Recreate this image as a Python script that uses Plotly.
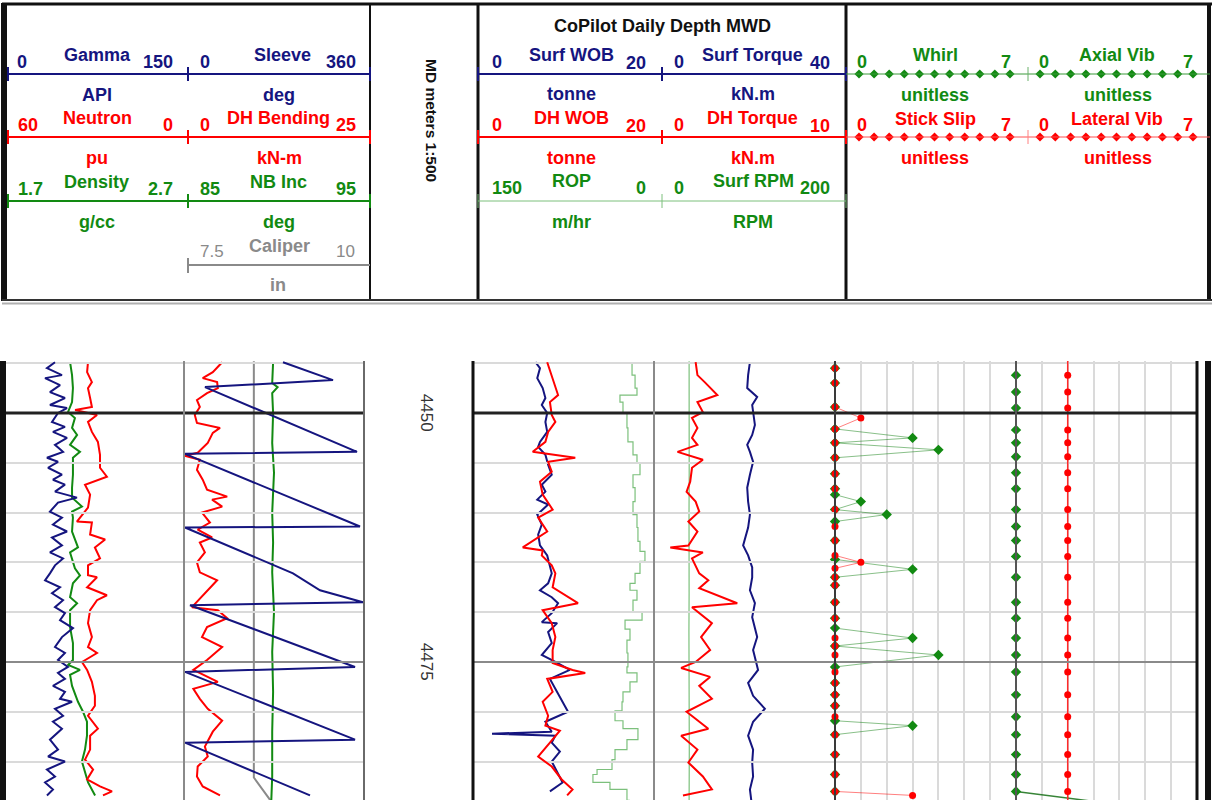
import numpy as np
import plotly.graph_objects as go

W, H = 1212, 800
FONT = "Liberation Sans, Arial, sans-serif"
NAVY = "#15157f"
RED = "#ff0000"
GREEN = "#128a12"
LGREEN = "#7cc07c"
GRAY = "#8a8a8a"
GRID = "#dadada"

# ---------------------------------------------------------------- data
DEPTH_TOP, DEPTH_BOT = 4444.78, 4488.86
MAJOR_DEPTH = 4450
MID_DEPTH = 4475
DEPTH_LABELS = [4450, 4475]

gamma_depth = [4444.9, 4445.5, 4446.2, 4446.5, 4447.2, 4447.9, 4448.5, 4449.2, 4449.5, 4450.0, 4450.9, 4451.4,
               4451.9, 4452.5, 4453.2, 4453.9, 4454.5, 4454.9, 4455.5, 4456.2, 4456.7, 4457.2, 4457.9, 4458.5,
               4459.0, 4459.9, 4460.5, 4461.2, 4461.9, 4462.5, 4463.3, 4464.0, 4464.6, 4465.3, 4466.1, 4466.8,
               4467.5, 4468.1, 4468.8, 4469.5, 4470.1, 4470.8, 4471.6, 4472.5, 4473.5, 4474.1, 4474.8, 4475.5,
               4476.1, 4476.7, 4477.4, 4478.0, 4478.7, 4479.0, 4479.7, 4480.4, 4481.0, 4481.7, 4482.8, 4483.8,
               4484.5, 4485.0, 4485.8, 4486.5, 4487.1, 4487.8, 4488.4]
gamma_api = [42.5, 35.8, 48.3, 34.2, 46.7, 38.3, 50.8, 38.3, 52.5, 45.0, 40.0, 50.8,
             40.8, 52.5, 42.5, 49.2, 35.8, 45.0, 36.7, 48.3, 40.8, 50.8, 42.5, 60.8,
             45.0, 38.3, 48.3, 40.8, 52.5, 40.0, 48.3, 38.3, 49.2, 42.5, 38.3, 34.2,
             46.7, 40.0, 49.2, 42.5, 50.8, 46.7, 57.5, 48.3, 42.5, 50.8, 45.0, 53.3,
             45.0, 50.8, 40.8, 50.8, 46.7, 56.7, 42.5, 49.2, 40.8, 48.3, 38.3, 45.0,
             36.7, 50.8, 35.8, 42.5, 34.2, 40.8, 35.8]

density_depth = [4444.9, 4446.2, 4447.5, 4448.9, 4449.9, 4450.5, 4451.5, 4452.2, 4453.2, 4453.9, 4454.5, 4456.2,
                 4457.5, 4458.5, 4459.4, 4459.9, 4460.5, 4461.9, 4463.5, 4464.0, 4465.6, 4466.3, 4467.1, 4468.5,
                 4469.1, 4469.8, 4471.5, 4473.1, 4474.8, 4475.3, 4475.8, 4476.3, 4477.4, 4479.0, 4480.0, 4481.0,
                 4482.4, 4483.8, 4485.0, 4486.1, 4487.1, 4488.4]
density_gcc = [2.067, 2.078, 2.083, 2.078, 2.056, 2.094, 2.078, 2.106, 2.067, 2.122, 2.083, 2.083,
               2.078, 2.078, 2.133, 2.078, 2.083, 2.078, 2.111, 2.067, 2.094, 2.122, 2.083, 2.067,
               2.106, 2.067, 2.067, 2.083, 2.083, 2.056, 2.122, 2.067, 2.078, 2.111, 2.139, 2.161,
               2.161, 2.150, 2.133, 2.150, 2.167, 2.206]

neutron_depth = [4444.9, 4445.9, 4446.9, 4447.5, 4448.5, 4449.4, 4449.7, 4450.2, 4450.9, 4451.9, 4452.9, 4454.2,
                 4455.5, 4456.4, 4457.2, 4458.2, 4459.5, 4460.9, 4461.0, 4462.2, 4462.7, 4463.5, 4464.6, 4465.3,
                 4466.3, 4466.5, 4467.5, 4468.3, 4468.8, 4469.8, 4471.1, 4472.5, 4473.5, 4474.1, 4475.0, 4475.8,
                 4477.0, 4478.4, 4479.4, 4480.4, 4481.7, 4482.4, 4483.8, 4484.8, 4485.8, 4486.8, 4487.5, 4488.0,
                 4488.4]
neutron_pu = [32.0, 32.3, 30.7, 32.0, 31.3, 30.7, 36.3, 29.0, 32.0, 30.7, 28.7, 28.0,
              28.0, 25.7, 33.0, 31.3, 32.0, 35.7, 30.7, 31.3, 26.3, 29.7, 28.0, 32.0,
              32.0, 29.0, 32.3, 25.7, 29.0, 31.3, 32.0, 30.7, 32.0, 29.0, 34.0, 32.3,
              30.7, 29.7, 29.7, 32.0, 28.7, 31.3, 31.3, 33.0, 30.3, 32.3, 28.0, 24.0,
              27.0]

sleeve_depth = [4444.9, 4446.7, 4447.4, 4453.9, 4454.1, 4461.4, 4461.5, 4466.1, 4467.8, 4469.0, 4469.3, 4475.5,
                4476.0, 4482.8, 4483.1, 4488.4]
sleeve_deg = [198, 298, 42, 346, 2, 352, 2, 218, 272, 358, 12, 342, 2, 342, 2, 252]

bend_depth = [4444.9, 4445.9, 4446.5, 4446.9, 4447.5, 4448.0, 4448.7, 4449.4, 4450.2, 4451.0, 4451.5, 4452.0,
              4453.0, 4454.0, 4454.3, 4454.7, 4455.7, 4456.7, 4457.7, 4458.4, 4458.7, 4459.4, 4460.0, 4461.0,
              4461.7, 4462.5, 4463.0, 4464.0, 4465.0, 4466.0, 4466.8, 4467.8, 4468.8, 4469.5, 4469.8, 4470.6,
              4471.5, 4472.5, 4473.5, 4474.8, 4475.8, 4477.0, 4477.7, 4478.7, 4479.7, 4480.9, 4482.0, 4483.5,
              4484.5, 4485.5, 4486.5, 4487.5, 4488.4]
bend_knm = [5.3, 4.0, 2.6, 4.6, 4.7, 3.2, 1.8, 2.2, 1.5, 1.8, 5.0, 4.0,
            3.3, 1.9, 0.1, 2.2, 1.8, 2.6, 3.2, 6.0, 3.9, 5.3, 2.5, 3.6,
            1.9, 3.9, 2.2, 2.9, 1.8, 2.2, 4.6, 3.3, 1.9, 1.1, 4.7, 6.0,
            3.2, 2.5, 5.3, 3.2, 1.3, 4.7, 1.3, 2.2, 3.3, 5.3, 4.0, 2.9,
            3.3, 1.9, 1.8, 2.6, 5.0]

nbinc_depth = [4444.9, 4447.0, 4447.4, 4448.0, 4450.0, 4453.0, 4456.0, 4460.0, 4463.0, 4466.0, 4470.0, 4474.0,
               4478.0, 4482.0, 4486.5, 4488.9]
nbinc_deg = [89.95, 89.9, 90.2, 89.9, 89.95, 89.9, 90.0, 89.9, 89.95, 89.9, 90.0, 89.9,
             89.95, 89.9, 89.9, 89.85]

caliper_depth = [4444.8, 4486.6, 4488.4, 4488.9]
caliper_in = [8.47, 8.47, 8.65, 8.70]

swob_depth = [4444.9, 4445.5, 4446.5, 4447.5, 4448.5, 4449.2, 4450.0, 4450.9, 4451.9, 4452.9, 4453.4, 4454.2,
              4455.2, 4456.2, 4457.2, 4457.9, 4458.7, 4459.2, 4460.2, 4461.2, 4462.2, 4463.3, 4464.3, 4465.3,
              4466.1, 4467.1, 4467.8, 4468.5, 4469.1, 4470.1, 4471.0, 4471.1, 4472.0, 4473.1, 4474.3, 4475.0,
              4475.8, 4476.7, 4478.0, 4479.0, 4480.0, 4481.0, 4482.0, 4482.2, 4482.4, 4483.1, 4484.0, 4485.0,
              4486.1, 4487.1, 4488.0]
swob_t = [6.9, 7.4, 7.1, 7.7, 8.0, 7.6, 8.2, 8.0, 8.2, 7.4, 7.2, 8.0,
          8.3, 8.7, 7.6, 8.0, 7.1, 8.3, 7.1, 7.6, 7.2, 7.4, 8.2, 8.5,
          8.7, 8.3, 7.4, 8.7, 9.4, 8.7, 7.6, 9.3, 8.3, 8.7, 7.6, 9.1,
          10.7, 8.5, 9.3, 9.9, 10.5, 8.0, 8.7, 2.1, 9.1, 8.7, 9.6, 8.7,
          9.3, 9.9, 8.5]

dwob_depth = [4444.9, 4446.2, 4448.2, 4448.9, 4450.2, 4450.9, 4451.9, 4452.9, 4453.9, 4454.5, 4454.9, 4455.9,
              4456.9, 4458.2, 4459.7, 4460.5, 4461.9, 4463.5, 4463.8, 4464.3, 4465.3, 4466.1, 4467.5, 4469.1,
              4469.8, 4471.1, 4472.5, 4473.8, 4475.1, 4475.8, 4476.1, 4476.7, 4478.0, 4479.0, 4480.4, 4481.4,
              4481.9, 4483.1, 4484.5, 4485.5, 4486.8, 4487.8, 4488.4]
dwob_t = [8.2, 8.7, 9.4, 8.5, 8.7, 9.1, 8.3, 8.0, 6.6, 11.3, 8.3, 8.7,
          7.4, 7.7, 8.8, 7.2, 8.2, 5.5, 7.7, 7.6, 8.7, 9.1, 8.8, 11.6,
          7.7, 8.7, 9.1, 8.8, 8.8, 11.0, 12.4, 8.2, 8.8, 7.7, 8.3, 8.0,
          9.6, 8.5, 7.2, 8.7, 9.8, 11.0, 10.4]

rop_depth = [4444.9, 4446.2, 4447.5, 4448.2, 4448.9, 4450.0, 4451.5, 4452.9, 4454.2, 4455.0, 4456.2, 4457.5,
             4458.9, 4460.2, 4461.5, 4462.9, 4463.9, 4464.9, 4466.1, 4467.1, 4467.8, 4468.8, 4470.0, 4470.8,
             4471.7, 4472.8, 4474.1, 4475.5, 4476.1, 4477.0, 4478.0, 4479.0, 4479.9, 4480.9, 4481.7, 4482.8,
             4483.8, 4484.8, 4485.8, 4486.3, 4487.1, 4487.8, 4488.9]
rop_mhr = [18.2, 15.7, 14.1, 28.2, 25.7, 22.4, 21.6, 17.4, 14.1, 11.6, 17.4, 15.7,
           17.4, 14.1, 13.3, 11.6, 7.5, 11.6, 15.7, 19.9, 14.1, 17.4, 9.9, 24.0,
           19.9, 22.4, 21.6, 22.4, 14.1, 19.9, 25.7, 26.5, 32.3, 25.7, 13.3, 22.4,
           32.3, 34.8, 47.2, 50.6, 36.5, 22.4, 20.0]

dtq_depth = [4444.9, 4446.2, 4446.9, 4448.2, 4448.9, 4449.9, 4450.5, 4451.5, 4452.5, 4453.2, 4453.9, 4454.7,
             4455.5, 4456.9, 4457.9, 4458.9, 4459.9, 4460.9, 4461.9, 4463.3, 4463.5, 4464.0, 4464.6, 4466.1,
             4466.8, 4467.6, 4469.1, 4469.5, 4471.1, 4472.5, 4473.8, 4475.0, 4475.6, 4476.5, 4477.4, 4478.7,
             4480.0, 4481.7, 4482.4, 4483.8, 4485.1, 4486.5, 4487.8, 4488.4]
dtq_knm = [2.3, 2.4, 2.8, 3.5, 2.4, 2.7, 2.1, 2.4, 2.1, 2.4, 1.3, 2.7,
           2.1, 2.0, 1.8, 2.3, 2.5, 1.9, 2.4, 1.9, 0.9, 2.7, 2.1, 2.5,
           3.0, 2.5, 4.6, 2.1, 3.2, 2.6, 3.1, 2.3, 1.5, 3.1, 2.5, 3.2,
           1.8, 3.0, 1.5, 2.4, 1.9, 2.7, 3.2, 1.6]

stq_depth = [4444.9, 4446.2, 4447.5, 4448.4, 4449.2, 4450.0, 4451.2, 4452.2, 4453.2, 4453.9, 4454.9, 4456.2,
             4457.5, 4458.9, 4460.2, 4461.5, 4463.3, 4464.3, 4465.5, 4466.5, 4467.8, 4469.1, 4470.5, 4472.5,
             4473.8, 4475.8, 4477.1, 4478.4, 4479.7, 4481.0, 4482.4, 4483.8, 4485.1, 4486.5, 4487.8, 4488.9]
stq_knm = [21.2, 20.8, 20.6, 22.8, 21.7, 21.9, 22.3, 21.7, 20.6, 21.2, 21.9, 21.2,
           20.6, 20.8, 21.2, 20.8, 19.7, 20.8, 21.7, 21.7, 21.2, 22.3, 21.7, 22.8,
           21.9, 23.0, 20.8, 21.9, 24.5, 21.9, 20.8, 21.9, 21.7, 21.9, 21.2, 21.5]

rpm_depth = [4444.8, 4448.0, 4452.0, 4456.0, 4460.0, 4464.0, 4468.0, 4472.0, 4476.0, 4480.0, 4484.0, 4488.9]
rpm_val = [38.8, 39.0, 38.6, 38.9, 38.7, 39.0, 38.8, 38.6, 38.9, 38.7, 39.0, 38.8]

whirl_depth = [4444.4, 4445.5, 4447.0, 4449.4, 4451.6, 4452.5, 4453.0, 4453.7, 4454.5, 4456.1, 4457.6, 4458.2,
               4458.9, 4459.7, 4460.2, 4460.9, 4462.8, 4464.7, 4465.7, 4466.5, 4467.3, 4469.0, 4470.6, 4471.6,
               4472.6, 4473.4, 4474.3, 4475.5, 4477.1, 4478.3, 4479.4, 4480.9, 4481.4, 4482.3, 4484.3, 4486.3,
               4488.0]
whirl_val = [0, 0, 0, 0, 0, 3, 0, 4, 0, 0, 0, 0,
             1, 0, 2, 0, 0, 0, 3, 0, 0, 0, 0, 0,
             3, 0, 4, 0, 0, 0, 0, 0, 3, 0, 0, 0, 0]

stick_depth = [4444.4, 4445.5, 4447.0, 4449.4, 4450.5, 4451.6, 4453.0, 4454.5, 4456.1, 4457.6, 4459.7, 4461.4,
               4462.8, 4464.3, 4465.0, 4465.6, 4466.5, 4467.3, 4469.0, 4470.6, 4472.6, 4473.4, 4474.3, 4476.0,
               4477.1, 4478.3, 4479.4, 4480.5, 4482.3, 4484.3, 4486.3, 4488.0, 4488.4]
stick_val = [0, 0, 0, 0, 1, 0, 0, 0, 0, 0, 0, 0,
             0, 0, 1, 0, 0, 0, 0, 0, 0, 0, 0, 0,
             0, 0, 0, 0, 0, 0, 0, 0, 3]

vib_depth = [4444.4, 4446.2, 4447.9, 4449.5, 4451.7, 4453.0, 4454.4, 4456.0, 4457.6, 4459.7, 4461.4, 4462.8,
             4464.4, 4466.5, 4469.0, 4470.6, 4472.6, 4474.3, 4476.0, 4478.3, 4480.5, 4482.3, 4484.3, 4486.3,
             4488.0, 4489.0]
axial_val = [0, 0, 0, 0, 0, 0, 0, 0, 0, 0, 0, 0,
             0, 0, 0, 0, 0, 0, 0, 0, 0, 0, 0, 0, 0, 3]
lateral_val = [2, 2, 2, 2, 2, 2, 2, 2, 2, 2, 2, 2,
               2, 2, 2, 2, 2, 2, 2, 2, 2, 2, 2, 2, 2, 2]

VIB_SCALE_MARKS = list(np.linspace(0, 7, 11))


# ---------------------------------------------------------------- helpers
def px(x):
    return x / W


def py(y):
    return 1 - y / H


def sfx(i):
    return "" if i == 1 else str(i)


layout = dict(width=W, height=H, autosize=False, margin=dict(l=0, r=0, t=0, b=0),
              paper_bgcolor="white", plot_bgcolor="rgba(0,0,0,0)", showlegend=False,
              hovermode=False)
traces, shapes, annotations = [], [], []

# tracks: left px, right px, grid divisions, grid on
TRACKS = [(4, 184, 5, True), (184, 364, 5, True), (364, 473, 1, False),
          (473, 654, 5, True), (654, 835, 5, True), (835, 1016, 7, True), (1016, 1197, 7, True)]
BODY_TOP = 361
BODY_DOMAIN = [0, py(BODY_TOP)]

for i, (l, r, n, grid) in enumerate(TRACKS, 1):
    s = sfx(i)
    layout["xaxis" + s] = dict(domain=[px(l), px(r)], range=[0, n], tickmode="array",
                               tickvals=list(range(1, n)), showgrid=grid,
                               gridcolor=GRID, gridwidth=1.5, zeroline=False, showline=False,
                               showticklabels=False, ticks="", fixedrange=True, anchor="y" + s)
    layout["yaxis" + s] = dict(domain=BODY_DOMAIN, range=[DEPTH_BOT, DEPTH_TOP], tick0=0, dtick=5,
                               showgrid=grid, gridcolor=GRID, gridwidth=1.5, zeroline=False, showline=False,
                               showticklabels=False, ticks="", fixedrange=True, anchor="x" + s)

ax_counter = [10]


def curve(track, x, y, rng, color, width=2.0, shape="linear", mode="lines", marker=None, clip=True):
    s = sfx(track)
    if rng is None:
        xa = "x" + s
    else:
        ax_counter[0] += 1
        k = ax_counter[0]
        l, r = TRACKS[track - 1][0], TRACKS[track - 1][1]
        layout[f"xaxis{k}"] = dict(domain=[px(l), px(r)], anchor="y" + s, range=rng, visible=False,
                                   showgrid=False, zeroline=False, fixedrange=True)
        xa = f"x{k}"
    kw = dict(x=x, y=y, xaxis=xa, yaxis="y" + s, mode=mode, cliponaxis=clip,
              line=dict(color=color, width=width, shape=shape), hoverinfo="skip")
    if marker is not None:
        kw["marker"] = marker
    traces.append(go.Scatter(**kw))


# Track 1
curve(1, density_gcc, density_depth, [1.7, 2.7], GREEN)
curve(1, neutron_pu, neutron_depth, [60, 0], RED)
curve(1, gamma_api, gamma_depth, [0, 150], NAVY)
# Track 2
curve(2, caliper_in, caliper_depth, [7.5, 10], GRAY)
curve(2, nbinc_deg, nbinc_depth, [85, 95], GREEN)
curve(2, bend_knm, bend_depth, [0, 25], RED)
curve(2, sleeve_deg, sleeve_depth, [0, 360], NAVY)
# Track 3 left
curve(4, rop_mhr, rop_depth, [150, 0], LGREEN, width=1.2, shape="vh")
curve(4, swob_t, swob_depth, [0, 20], NAVY)
curve(4, dwob_t, dwob_depth, [0, 20], RED)
# Track 3 right
curve(5, rpm_val, rpm_depth, [0, 200], LGREEN, width=1.2)
curve(5, stq_knm, stq_depth, [0, 40], NAVY)
curve(5, dtq_knm, dtq_depth, [0, 10], RED)
# Track 4 (scale 0..7 = base grid)
curve(6, whirl_val, whirl_depth, None, "rgba(20,130,20,0.5)", width=1, mode="lines+markers",
      marker=dict(symbol="diamond", size=8, color=GREEN), clip=False)
curve(6, stick_val, stick_depth, None, "rgba(255,0,0,0.5)", width=1, mode="lines+markers",
      marker=dict(symbol="circle", size=7, color=RED), clip=False)
curve(7, axial_val, vib_depth, None, "rgba(20,110,20,0.85)", width=1.5, mode="lines+markers",
      marker=dict(symbol="diamond", size=8, color=GREEN), clip=False)
curve(7, lateral_val, vib_depth, None, "#ff2a2a", width=1.5, mode="lines+markers",
      marker=dict(symbol="circle", size=7, color=RED), clip=False)

# depth labels
for d in DEPTH_LABELS:
    annotations.append(dict(x=0.57, y=d, xref="x3 domain", yref="y3", text=str(d), showarrow=False,
                            textangle=90, xanchor="center", yanchor="middle",
                            font=dict(family=FONT, size=17, color="#333333")))


# ---------------------------------------------------------------- shapes / header
def hline(x0, x1, y, color, width):
    shapes.append(dict(type="line", xref="paper", yref="paper", x0=px(x0), x1=px(x1), y0=py(y), y1=py(y),
                       line=dict(color=color, width=width), layer="above"))


def vline(x, y0, y1, color, width):
    shapes.append(dict(type="line", xref="paper", yref="paper", x0=px(x), x1=px(x), y0=py(y0), y1=py(y1),
                       line=dict(color=color, width=width), layer="above"))


def rect(x0, x1, y0, y1, color):
    shapes.append(dict(type="rect", xref="paper", yref="paper", x0=px(x0), x1=px(x1), y0=py(y0), y1=py(y1),
                       line=dict(width=0), fillcolor=color, layer="above"))


def depth_line(x0, x1, depth, color, width):
    shapes.append(dict(type="line", xref="paper", yref="y", x0=px(x0), x1=px(x1), y0=depth, y1=depth,
                       line=dict(color=color, width=width), layer="above"))


def label(x, y, text, color, anchor="center", size=18, bold=True, angle=0):
    annotations.append(dict(x=px(x), y=py(y), xref="paper", yref="paper", text=text, showarrow=False,
                            xanchor=anchor, yanchor="middle", textangle=angle,
                            font=dict(family=FONT, size=size, color=color,
                                      weight="bold" if bold else "normal")))


def scale_row(x0, xm, x1, y, color, width, tick=7):
    hline(x0, x1, y, color, width)
    for xx in (x0, xm, x1):
        vline(xx, y - tick, y + tick, color, width)


# body heavy depth lines and dividers
for x0, x1 in [(4, 364), (473, 1197)]:
    depth_line(x0, x1, MID_DEPTH, "#8a8a8a", 2)
    depth_line(x0, x1, MAJOR_DEPTH, "#222222", 3)
vline(184, BODY_TOP, 800, "#8a8a8a", 2)
vline(364, BODY_TOP, 800, "#6a6a6a", 2)
vline(654, BODY_TOP, 800, "#8a8a8a", 2)
vline(835, BODY_TOP, 800, "#3a3a3a", 2)
vline(1016, BODY_TOP, 800, "#555555", 2)
rect(0, 6, BODY_TOP, 800, "#111111")
vline(473, BODY_TOP, 800, "#111111", 3)
vline(1197, BODY_TOP, 800, "#111111", 3)
rect(1205, 1211, BODY_TOP, 800, "#111111")

# header frame
hline(2, 1212, 4, "#111111", 3)
rect(1, 7, 3, 301, "#111111")
vline(370, 3, 301, "#111111", 2)
vline(478, 3, 301, "#111111", 3)
vline(846, 3, 301, "#111111", 3)
vline(1209, 3, 301, "#111111", 4)
hline(2, 1212, 300, "#333333", 2)
hline(2, 1212, 303.5, "#b0b0b0", 2)

# scale rows
scale_row(8, 188, 370, 74, NAVY, 2)
scale_row(8, 188, 370, 137, RED, 2)
scale_row(8, 188, 370, 201, GREEN, 2)
hline(188, 370, 265, GRAY, 2)
vline(188, 258, 273, GRAY, 2)
scale_row(478, 662, 846, 74, NAVY, 2)
scale_row(478, 662, 846, 137, RED, 2)
scale_row(478, 662, 846, 201, LGREEN, 1)
hline(846, 1210, 74, "#3a9a3a", 1)
vline(1028, 67, 81, "#6ab06a", 1)
hline(846, 1210, 137, "#ff5050", 1)
vline(1028, 130, 144, "#ff8080", 1)

# header marker samples on their own small axes
layout["xaxis50"] = dict(domain=[px(859), px(1010)], range=[0, 7], visible=False, fixedrange=True, anchor="y50")
layout["xaxis51"] = dict(domain=[px(1040), px(1193)], range=[0, 7], visible=False, fixedrange=True, anchor="y50")
layout["yaxis50"] = dict(domain=[py(300), 1], range=[300, 0], visible=False, fixedrange=True, anchor="x50")
for xa, row_y, col in [("x50", 74, GREEN), ("x51", 74, GREEN), ("x50", 137, RED), ("x51", 137, RED)]:
    traces.append(go.Scatter(x=VIB_SCALE_MARKS, y=[row_y] * len(VIB_SCALE_MARKS), xaxis=xa, yaxis="y50",
                             mode="markers", cliponaxis=False, hoverinfo="skip",
                             marker=dict(symbol="diamond", size=7, color=col)))

# header text
for args in [
    (15, 62, "0", NAVY, "left"), (97, 55, "Gamma", NAVY), (175, 62, "150", NAVY, "right"),
    (198, 62, "0", NAVY, "left"), (282, 55, "Sleeve", NAVY), (358, 62, "360", NAVY, "right"),
    (97, 95, "API", NAVY), (279, 95, "deg", NAVY),
    (16, 125, "60", RED, "left"), (97, 118, "Neutron", RED), (175, 125, "0", RED, "right"),
    (198, 125, "0", RED, "left"), (278, 118, "DH Bending", RED), (358, 125, "25", RED, "right"),
    (97, 158, "pu", RED), (279, 158, "kN-m", RED),
    (16, 189, "1.7", GREEN, "left"), (96, 182, "Density", GREEN), (175, 189, "2.7", GREEN, "right"),
    (198, 189, "85", GREEN, "left"), (278, 182, "NB Inc", GREEN), (358, 189, "95", GREEN, "right"),
    (97, 222, "g/cc", GREEN), (279, 222, "deg", GREEN),
    (279, 246, "Caliper", GRAY), (278, 285, "in", GRAY),
    (662, 26, "CoPilot Daily Depth MWD", "#111111"),
    (490, 62, "0", NAVY, "left"), (571, 55, "Surf WOB", NAVY), (648, 63, "20", NAVY, "right"),
    (672, 62, "0", NAVY, "left"), (752, 55, "Surf Torque", NAVY), (832, 63, "40", NAVY, "right"),
    (571, 94, "tonne", NAVY), (753, 94, "kN.m", NAVY),
    (490, 125, "0", RED, "left"), (571, 118, "DH WOB", RED), (648, 126, "20", RED, "right"),
    (672, 125, "0", RED, "left"), (752, 118, "DH Torque", RED), (832, 126, "10", RED, "right"),
    (571, 158, "tonne", RED), (753, 158, "kN.m", RED),
    (490, 188, "150", GREEN, "left"), (571, 181, "ROP", GREEN), (648, 188, "0", GREEN, "right"),
    (672, 188, "0", GREEN, "left"), (753, 181, "Surf RPM", GREEN), (832, 188, "200", GREEN, "right"),
    (571, 222, "m/hr", GREEN), (753, 222, "RPM", GREEN),
    (855, 62, "0", GREEN, "left"), (935, 55, "Whirl", GREEN), (1013, 62, "7", GREEN, "right"),
    (1037, 62, "0", GREEN, "left"), (1117, 55, "Axial Vib", GREEN), (1195, 62, "7", GREEN, "right"),
    (935, 95, "unitless", GREEN), (1118, 95, "unitless", GREEN),
    (855, 125, "0", RED, "left"), (935, 119, "Stick Slip", RED), (1013, 125, "7", RED, "right"),
    (1037, 125, "0", RED, "left"), (1117, 119, "Lateral Vib", RED), (1195, 125, "7", RED, "right"),
    (935, 158, "unitless", RED), (1118, 158, "unitless", RED),
]:
    label(*args)
label(198, 252, "7.5", GRAY, "left", size=17, bold=False)
label(357, 252, "10", GRAY, "right", size=17, bold=False)
label(432, 120, "MD meters 1:500", "#111111", size=15.5, angle=90)

layout["shapes"] = shapes
layout["annotations"] = annotations

fig = go.Figure(data=traces, layout=layout)
fig.write_html("out.html")
